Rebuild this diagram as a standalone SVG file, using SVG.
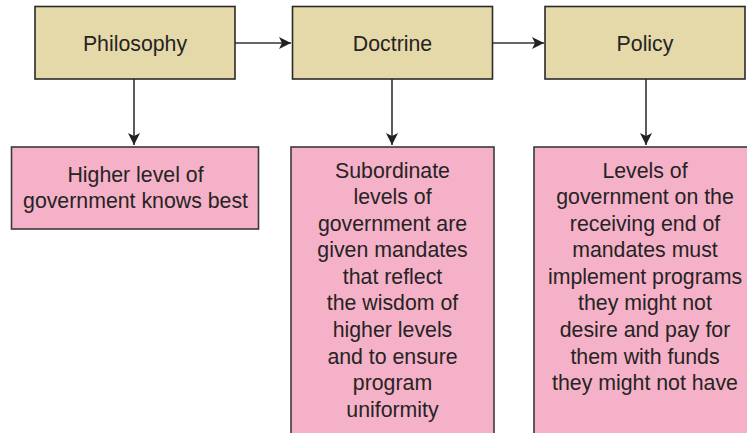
<svg xmlns="http://www.w3.org/2000/svg" width="747" height="433" viewBox="0 0 747 433">
<defs>
<style>
.top{fill:#e5d9aa;stroke:#2a2a2a;stroke-width:1.6}
.pink{fill:#f5b1c7;stroke:#3a3a3a;stroke-width:1.6}
.t{font-family:"Liberation Sans",Arial,sans-serif;font-size:21.3px;fill:#262324;text-anchor:middle}
.c{stroke:#333;stroke-width:1.6;fill:none}
</style>
<marker id="ah" viewBox="0 0 10 10" refX="10" refY="5" markerWidth="12" markerHeight="12" markerUnits="userSpaceOnUse" orient="auto">
<path d="M0,0 L10,5 L0,10 L2.5,5 Z" fill="#222"/>
</marker>
</defs>
<rect width="747" height="433" fill="#ffffff"/>
<g id="connectors">
<line class="c" x1="235" y1="43" x2="291" y2="43" marker-end="url(#ah)"/>
<line class="c" x1="493" y1="43" x2="544" y2="43" marker-end="url(#ah)"/>
<line class="c" x1="134" y1="79" x2="134" y2="145" marker-end="url(#ah)"/>
<line class="c" x1="392" y1="79" x2="392" y2="145" marker-end="url(#ah)"/>
<line class="c" x1="646" y1="79" x2="646" y2="145" marker-end="url(#ah)"/>
</g>
<g id="philosophy">
<rect class="top" x="35" y="6.5" width="200" height="72.5"/>
<text class="t" x="135" y="51">Philosophy</text>
</g>
<g id="doctrine">
<rect class="top" x="292.5" y="6.5" width="200" height="72.5"/>
<text class="t" x="392.5" y="51">Doctrine</text>
</g>
<g id="policy">
<rect class="top" x="545" y="6.5" width="200" height="72.5"/>
<text class="t" x="645" y="51">Policy</text>
</g>
<g id="box1">
<rect class="pink" x="11.5" y="147" width="247" height="82"/>
<text class="t" x="135.5" y="181.5">Higher level of</text>
<text class="t" x="135.5" y="207.5">government knows best</text>
</g>
<g id="box2">
<rect class="pink" x="291" y="147" width="203" height="300"/>
<text class="t" x="392.5" y="177.5">Subordinate</text>
<text class="t" x="392.5" y="204">levels of</text>
<text class="t" x="392.5" y="230.6">government are</text>
<text class="t" x="392.5" y="257.2">given mandates</text>
<text class="t" x="392.5" y="283.8">that reflect</text>
<text class="t" x="392.5" y="310.4">the wisdom of</text>
<text class="t" x="392.5" y="337">higher levels</text>
<text class="t" x="392.5" y="363.6">and to ensure</text>
<text class="t" x="392.5" y="390.2">program</text>
<text class="t" x="392.5" y="416.8">uniformity</text>
</g>
<g id="box3">
<rect class="pink" x="534" y="147" width="230" height="300"/>
<text class="t" x="645" y="177.5">Levels of</text>
<text class="t" x="645" y="204">government on the</text>
<text class="t" x="645" y="230.6">receiving end of</text>
<text class="t" x="645" y="257.2">mandates must</text>
<text class="t" x="645" y="283.8">implement programs</text>
<text class="t" x="645" y="310.4">they might not</text>
<text class="t" x="645" y="337">desire and pay for</text>
<text class="t" x="645" y="363.6">them with funds</text>
<text class="t" x="645" y="390.2">they might not have</text>
</g>
</svg>
